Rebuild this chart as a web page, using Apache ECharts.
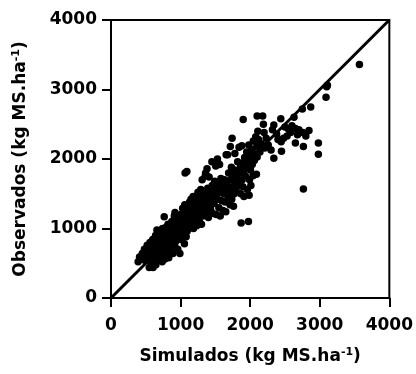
<!DOCTYPE html>
<html>
<head>
<meta charset="utf-8">
<script src="https://cdn.jsdelivr.net/npm/echarts@6/dist/echarts.min.js"></script>
<style>html,body{margin:0;padding:0;background:#fff}#c{width:416px;height:374px}</style>
</head>
<body>
<div id="c"></div>
<script>
// [simulado, observado] pairs (kg MS/ha)
var pontos = [
[390,520],[410,590],[430,560],[450,640],[470,610],[480,700],[490,540],[500,680],[510,620],[520,760],[530,580],[540,700],[550,440],[555,650],[560,800],[570,720],[575,520],[580,600],[590,760],[595,680],[600,840],[605,440],[610,560],[620,720],[625,800],[630,640],[640,900],[645,480],[650,760],[655,600],[660,980],[665,700],[670,540],[680,820],[690,660],
[700,760],[705,880],[710,600],[720,940],[725,700],[730,820],[735,520],[740,1000],[745,640],[750,760],[760,880],[765,1170],[770,700],[775,560],[780,940],[790,820],[795,1020],[800,640],[810,900],[815,740],[820,1060],[830,580],[835,960],[840,820],[850,700],[855,1050],[860,900],[870,760],[875,1100],[880,980],[890,640],[895,860],[900,1040],[910,1180],[915,760],[920,1230],[925,940],[935,820],[940,1100],[950,1000],[960,700],[965,880],[970,1160],[980,1060],[990,640],
[1000,960],[1005,1200],[1010,840],[1020,1080],[1030,1290],[1035,920],[1040,1000],[1050,1140],[1055,780],[1060,1340],[1065,1800],[1070,1060],[1080,880],[1085,1220],[1090,1820],[1095,960],[1100,1120],[1110,1300],[1115,1020],[1120,1180],[1130,1380],[1140,1060],[1145,1240],[1150,1420],[1160,1120],[1170,1320],[1180,1460],[1185,1000],[1190,1200],[1200,1360],[1210,1100],[1220,1280],[1225,1440],[1230,1040],[1240,1180],[1250,1520],[1255,1320],[1260,1400],[1270,1100],[1280,1240],[1290,1560],[1295,1440],[1300,1060],[1305,1340],[1310,1700],
[1320,1180],[1330,1260],[1340,1500],[1350,1400],[1355,1760],[1360,1800],[1365,1200],[1370,1320],[1380,1860],[1385,1460],[1390,1580],[1400,1160],[1405,1360],[1410,1740],[1420,1500],[1430,1280],[1440,1420],[1450,1960],[1455,1620],[1460,1220],[1470,1540],[1480,1360],[1490,1680],[1500,1480],[1505,1900],[1510,1200],[1520,1580],[1530,2000],[1535,1420],[1540,1940],[1550,1300],[1555,1640],[1560,1920],[1565,1520],[1570,1180],[1580,1720],[1590,1400],[1600,1600],[1610,1260],[1620,1500],[1630,1700],[1640,1380],[1645,1560],[1650,1240],[1655,2060],
[1670,1620],[1675,2060],[1680,1460],[1690,1800],[1700,1540],[1710,1340],[1715,2180],[1720,1700],[1730,1880],[1735,1420],[1740,2300],[1745,1600],[1750,1760],[1760,1320],[1770,1500],[1775,1840],[1780,2080],[1790,1640],[1800,1540],[1810,1720],[1820,1960],[1830,1620],[1840,2170],[1850,1800],[1860,1880],[1865,1500],[1870,1080],[1880,2190],[1885,1700],[1890,1940],[1895,1600],[1900,2570],[1905,1820],[1910,1460],[1920,2020],[1930,1760],[1940,1880],[1950,2100],[1960,1560],[1970,1960],[1975,1100],[1980,2200],[1985,1480],[1990,1700],[2000,2040],[2005,1840],[2010,1620],[2020,2140],[2030,1920],[2040,1760],[2045,2260],[2050,2080],[2060,1980],[2080,2320],[2090,1780],[2095,2180],[2100,2030],
[2100,2620],[2110,2400],[2120,2280],[2140,2100],[2160,2220],[2180,2620],[2190,2500],[2200,2380],[2210,2160],[2230,2300],[2260,2200],[2300,2130],[2320,2420],[2340,2490],[2340,2010],[2380,2360],[2400,2280],[2440,2580],[2445,2250],[2450,2110],[2480,2300],[2500,2460],[2530,2330],[2550,2430],[2580,2380],[2600,2480],[2630,2600],[2650,2440],[2650,2230],[2680,2350],[2700,2420],[2750,2720],[2755,2380],[2765,2180],[2765,1570],[2800,2330],[2845,2410],[2870,2750],[2980,2230],[2980,2070],[3090,2890],[3100,3040],[3110,3060],[3570,3360]
];
var linhaX = [0, 4000];
var linhaY = [0, 4000];
var ticks = [0, 1000, 2000, 3000, 4000];

var FONT = 'DejaVu Sans';
var chart = echarts.init(document.getElementById('c'), null, {renderer: 'canvas'});
var nameRich = {
  sup: {fontFamily: FONT, fontWeight: 'bold', fontSize: 11, color: '#000', padding: [0, 0, 8, 0]}
};
var axisCommon = {
  type: 'value', min: ticks[0], max: ticks[ticks.length - 1], interval: 1000,
  splitLine: {show: false},
  axisLine: {show: true, onZero: false, lineStyle: {color: '#000', width: 2}},
  axisTick: {show: true, inside: false, length: 9, lineStyle: {color: '#000', width: 2}},
  axisLabel: {color: '#000', fontFamily: FONT, fontWeight: 'bold', fontSize: 17,
              formatter: function (v) { return String(v); }},
  nameLocation: 'middle',
  nameTextStyle: {color: '#000', fontFamily: FONT, fontWeight: 'bold', fontSize: 17, rich: nameRich}
};
chart.setOption({
  animation: false,
  backgroundColor: '#fff',
  grid: {left: 111, top: 20, width: 280, height: 278, show: true, borderColor: '#000', borderWidth: 2, backgroundColor: 'transparent'},
  xAxis: Object.assign({}, axisCommon, {
    name: 'Simulados (kg MS.ha{sup|-1})', nameGap: 49,
    axisLabel: Object.assign({}, axisCommon.axisLabel, {margin: 19})
  }),
  yAxis: Object.assign({}, axisCommon, {
    name: 'Observados (kg MS.ha{sup|-1})', nameGap: 81, nameRotate: 90,
    axisLabel: Object.assign({}, axisCommon.axisLabel, {margin: 14})
  }),
  series: [
    {type: 'scatter', data: pontos, symbol: 'circle', symbolSize: 7.5, itemStyle: {color: '#000', opacity: 1}, silent: true},
    {type: 'line', data: linhaX.map(function (x, i) { return [x, linhaY[i]]; }), showSymbol: false, symbol: 'none',
     lineStyle: {color: '#000', width: 3}, silent: true}
  ]
});
</script>
</body>
</html>
